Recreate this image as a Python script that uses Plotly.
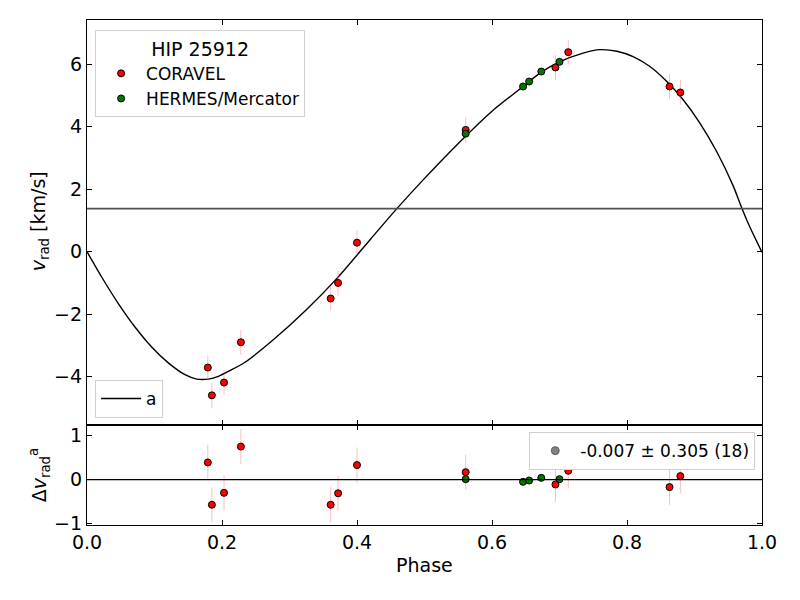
import plotly.graph_objects as go
from plotly.subplots import make_subplots

# ---- data ----
cor_phase = [0.179, 0.185, 0.203, 0.228, 0.361, 0.372, 0.400, 0.561, 0.694, 0.713, 0.863, 0.879]
cor_v     = [-3.71, -4.60, -4.19, -2.90, -1.50, -1.00, 0.29, 3.90, 5.90, 6.39, 5.29, 5.10]
cor_err   = [0.40] * 12
cor_res   = [0.39, -0.57, -0.30, 0.75, -0.57, -0.31, 0.33, 0.17, -0.11, 0.20, -0.17, 0.08]

her_phase = [0.561, 0.646, 0.655, 0.673, 0.700]
her_v     = [3.78, 5.29, 5.45, 5.77, 6.08]
her_err   = [0.03] * 5
her_res   = [0.01, -0.05, -0.02, 0.04, 0.01]

model_phase = [0.0, 0.0217, 0.0464, 0.0711, 0.0958, 0.1205, 0.1452, 0.1625, 0.1798, 0.1946,
               0.234, 0.276, 0.325, 0.373, 0.42, 0.459, 0.498, 0.553, 0.6, 0.646, 0.673,
               0.70, 0.735, 0.76, 0.785, 0.809, 0.834, 0.859, 0.8835, 0.908, 0.933,
               0.9575, 0.970, 0.982, 1.0]
model_v = [0.0, -0.81, -1.66, -2.41, -3.05, -3.56, -3.94, -4.08, -4.08, -3.99,
           -3.54, -2.82, -1.86, -0.79, 0.40, 1.38, 2.30, 3.53, 4.50, 5.29, 5.75,
           6.08, 6.36, 6.47, 6.42, 6.25, 5.93, 5.45, 4.86, 4.12, 3.20,
           2.10, 1.40, 0.79, -0.02]

gamma = 1.38
res_label = "-0.007 ± 0.305 (18)"

FONT = "DejaVu Sans"
fig = make_subplots(rows=2, cols=1, shared_xaxes=True, vertical_spacing=0.0,
                    row_heights=[0.802, 0.198])

err_style = dict(type="data", visible=True, color="rgba(255,90,90,0.4)", thickness=1, width=0)
mk_red = dict(color="#ff0000", size=7, line=dict(color="black", width=1))
mk_green = dict(color="#007800", size=7, line=dict(color="black", width=1))

fig.add_trace(go.Scatter(x=model_phase, y=model_v, mode="lines", name="a",
                         line=dict(color="black", width=1.4, shape="spline", smoothing=0.6),
                         legend="legend2"), row=1, col=1)
fig.add_trace(go.Scatter(x=cor_phase, y=cor_v, mode="markers", name="CORAVEL",
                         marker=mk_red, error_y=dict(array=cor_err, **err_style),
                         legend="legend"), row=1, col=1)
fig.add_trace(go.Scatter(x=her_phase, y=her_v, mode="markers", name="HERMES/Mercator",
                         marker=mk_green, error_y=dict(array=her_err, **err_style),
                         legend="legend"), row=1, col=1)

fig.add_trace(go.Scatter(x=cor_phase, y=cor_res, mode="markers", showlegend=False,
                         marker=mk_red, error_y=dict(array=cor_err, **err_style)), row=2, col=1)
fig.add_trace(go.Scatter(x=her_phase, y=her_res, mode="markers", showlegend=False,
                         marker=mk_green, error_y=dict(array=her_err, **err_style)), row=2, col=1)
fig.add_trace(go.Scatter(x=[None], y=[None], mode="markers", name=res_label,
                         marker=dict(color="#808080", size=8, line=dict(color="#606060", width=1)),
                         legend="legend3"), row=2, col=1)

fig.add_shape(type="line", xref="x domain", yref="y", x0=0, x1=1, y0=gamma, y1=gamma,
              line=dict(color="#505050", width=1.6))
fig.add_shape(type="line", xref="x2 domain", yref="y2", x0=0, x1=1, y0=0, y1=0,
              line=dict(color="black", width=1.2))

axis_common = dict(showline=True, linecolor="black", linewidth=1.3, mirror="ticks",
                   ticks="inside", ticklen=5, tickwidth=1.2, tickcolor="black",
                   showgrid=False, zeroline=False, automargin=False,
                   tickfont=dict(family=FONT, size=19, color="black"))

fig.update_xaxes(**axis_common, range=[0, 1], dtick=0.2, tickformat=".1f")
fig.update_xaxes(showticklabels=False, row=1, col=1)
fig.update_yaxes(**axis_common)
fig.update_yaxes(range=[-5.55, 7.42], dtick=2, row=1, col=1)
fig.update_yaxes(range=[-1.03, 1.24], dtick=1, row=2, col=1)

title_font = dict(family=FONT, size=19, color="black")
fig.add_annotation(text="Phase", xref="paper", yref="paper", x=0.5, y=-0.079,
                   xanchor="center", yanchor="middle", showarrow=False, font=title_font)
fig.add_annotation(text="<i>v</i><sub>rad</sub> [km/s]", xref="paper", yref="paper",
                   x=-0.070, y=0.601, xanchor="center", yanchor="middle", textangle=-90,
                   showarrow=False, font=title_font)
fig.add_annotation(text="Δ<i>v</i><sub>rad</sub><sup>a</sup>", xref="paper", yref="paper",
                   x=-0.070, y=0.098, xanchor="center", yanchor="middle", textangle=-90,
                   showarrow=False, font=title_font)

leg_common = dict(bgcolor="white", bordercolor="#d0d0d0", borderwidth=1, itemwidth=40,
                  font=dict(family=FONT, size=17, color="black"))
fig.update_layout(
    width=800, height=600,
    margin=dict(l=79, r=46, t=12, b=83),
    paper_bgcolor="white", plot_bgcolor="white",
    legend=dict(**leg_common, x=0.012, y=0.98, xanchor="left", yanchor="top",
                title=dict(text="HIP 25912", side="top center",
                           font=dict(family=FONT, size=19, color="black"))),
    legend2=dict(**leg_common, x=0.012, y=0.212, xanchor="left", yanchor="bottom"),
    legend3=dict(**leg_common, x=0.99, y=0.184, xanchor="right", yanchor="top"),
)

fig.write_html("out.html")
